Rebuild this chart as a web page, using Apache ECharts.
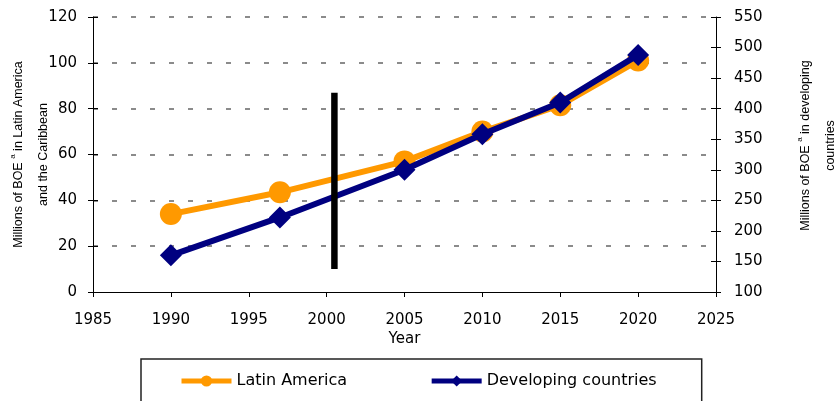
<!DOCTYPE html>
<html>
<head>
<meta charset="utf-8">
<script src="https://cdn.jsdelivr.net/npm/echarts@6/dist/echarts.min.js"></script>
<style>
  html, body { margin: 0; padding: 0; background: #fff; }
  #chart { width: 839px; height: 401px; }
</style>
</head>
<body>
<div id="chart"></div>
<script>
// data
const years = [1990, 1997, 2005, 2010, 2015, 2020];
const latinAmerica = [34, 43.5, 57, 70, 81.5, 101];        // left axis
const developing = [160, 222, 300, 358, 410, 488];          // right axis
const dividerX = 2000.5;
const dividerY = [10, 87];

const orange = '#FF9900';
const navy = '#000080';
const tickFont = 'DejaVu Sans';
const nameFont = 'Liberation Sans';

const chart = echarts.init(document.getElementById('chart'));

const pair = (xs, ys) => xs.map((x, i) => [x, ys[i]]);

const nameRich = {
  t: { fontFamily: nameFont, fontSize: 12.5, color: '#000', lineHeight: 25 },
  s: { fontFamily: nameFont, fontSize: 8, color: '#000', lineHeight: 10, verticalAlign: 'top', padding: [3, 0, 0, 0] }
};

// plain axis with inner ticks only, so ticks cross the axis line
const innerTicks = (pos, min, max, interval) => ({
  type: 'value', position: pos, min, max, interval,
  axisLine: { show: false },
  axisTick: { show: true, inside: true, length: 5, lineStyle: { color: '#000' } },
  axisLabel: { show: false },
  splitLine: { show: false }
});

chart.setOption({
  animation: false,
  grid: { left: 93, right: 123, top: 17, bottom: 109, containLabel: false, outerBoundsMode: 'none' },
  legend: {
    data: ['Latin America', 'Developing countries'],
    left: 141, top: 359,
    padding: [14, 45, 30, 38],
    itemGap: 82, itemWidth: 50, itemHeight: 14,
    borderColor: '#222', borderWidth: 1.5,
    lineStyle: { width: 5 },
    textStyle: { fontFamily: tickFont, fontSize: 16, color: '#000' }
  },
  xAxis: {
    type: 'value', min: 1985, max: 2025, interval: 5,
    name: 'Year', nameLocation: 'middle', nameGap: 40, nameMoveOverlap: false,
    nameTextStyle: { fontFamily: tickFont, fontSize: 15, color: '#000' },
    axisLine: { lineStyle: { color: '#000' } },
    axisTick: { length: 5, lineStyle: { color: '#000' } },
    axisLabel: { fontFamily: tickFont, fontSize: 15, color: '#000', margin: 21, formatter: v => String(v) },
    splitLine: { show: false }
  },
  yAxis: [
    {
      type: 'value', position: 'left', min: 0, max: 120, interval: 20,
      name: '{t|Millions of BOE }{s|a}{t| in Latin America}\n{t|and the Caribbean}',
      nameLocation: 'middle', nameGap: 37, nameMoveOverlap: false,
      nameTextStyle: { rich: nameRich },
      axisLine: { show: true, lineStyle: { color: '#000' } },
      axisTick: { show: true, length: 5, lineStyle: { color: '#000' } },
      axisLabel: { fontFamily: tickFont, fontSize: 15, color: '#000', margin: 16 },
      splitLine: { show: true, showMinLine: false, lineStyle: { color: '#666', width: 1.5, type: [5, 14] } }
    },
    {
      type: 'value', position: 'right', min: 100, max: 550, interval: 50,
      name: '{t|Millions of BOE }{s|a}{t| in developing}\n{t|countries}',
      nameLocation: 'middle', nameGap: 77, nameMoveOverlap: false,
      nameTextStyle: { rich: nameRich, padding: [0, 0, 0, 18] },
      axisLine: { show: true, lineStyle: { color: '#000' } },
      axisTick: { show: true, length: 5, lineStyle: { color: '#000' } },
      axisLabel: { fontFamily: tickFont, fontSize: 15, color: '#000', margin: 18 },
      splitLine: { show: false }
    },
    innerTicks('left', 0, 120, 20),
    innerTicks('right', 100, 550, 50)
  ],
  series: [
    {
      name: 'Latin America', type: 'line', yAxisIndex: 0,
      data: pair(years, latinAmerica),
      symbol: 'circle', symbolSize: 22,
      lineStyle: { color: orange, width: 6 },
      itemStyle: { color: orange },
      z: 2
    },
    {
      name: 'Developing countries', type: 'line', yAxisIndex: 1,
      data: pair(years, developing),
      symbol: 'diamond', symbolSize: 22,
      lineStyle: { color: navy, width: 6 },
      itemStyle: { color: navy },
      z: 3
    },
    {
      name: 'divider', type: 'line', yAxisIndex: 0,
      data: dividerY.map(y => [dividerX, y]),
      symbol: 'none',
      lineStyle: { color: '#000', width: 6.5, cap: 'butt' },
      z: 4, silent: true
    }
  ]
});
</script>
</body>
</html>
